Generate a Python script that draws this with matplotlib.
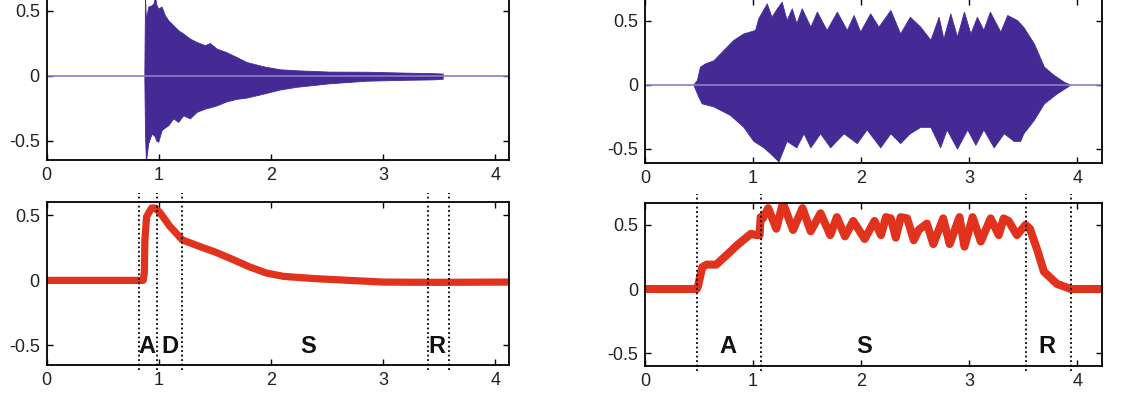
import numpy as np
import matplotlib
matplotlib.use('Agg')
from matplotlib import pyplot as plt
from matplotlib.ticker import FuncFormatter

plt.rcParams['font.family'] = ['Liberation Sans', 'DejaVu Sans']

PURPLE = '#452a96'
RED = '#e1321e'

# left note (piano-like): waveform envelope
wl_x = [0.870, 0.876, 0.884, 0.905, 0.935, 0.955, 0.965, 0.975, 0.994, 1.024, 1.053, 1.083,
        1.128, 1.172, 1.217, 1.276, 1.336, 1.41, 1.454, 1.514, 1.60, 1.69, 1.78, 1.929,
        2.077, 2.226, 2.52, 2.85, 3.20, 3.44, 3.53]
wl_up = [0.0, 0.60, 0.43, 0.53, 0.54, 0.56, 0.62, 0.55, 0.515, 0.53, 0.464, 0.425,
         0.387, 0.348, 0.323, 0.284, 0.258, 0.233, 0.25, 0.207, 0.18, 0.143, 0.104, 0.071,
         0.048, 0.040, 0.030, 0.029, 0.022, 0.018, 0.015]
wl_lo = [0.0, -0.45, -0.66, -0.52, -0.447, -0.46, -0.47, -0.50, -0.51, -0.42, -0.40, -0.383,
         -0.33, -0.357, -0.306, -0.33, -0.28, -0.255, -0.245, -0.23, -0.20, -0.18, -0.17, -0.14,
         -0.108, -0.087, -0.06, -0.04, -0.033, -0.03, -0.025]

# right note (sustained, vibrato): waveform envelope
wr_x = [0.447, 0.48, 0.509, 0.555, 0.633, 0.725, 0.818, 0.91, 1.018, 1.049, 1.127, 1.17,
        1.22, 1.265, 1.31, 1.358, 1.40, 1.45, 1.53, 1.59, 1.68, 1.775, 1.867, 1.93,
        1.99, 2.083, 2.16, 2.27, 2.36, 2.45, 2.546, 2.64, 2.716, 2.76, 2.824, 2.886,
        2.95, 3.01, 3.07, 3.13, 3.19, 3.287, 3.35, 3.44, 3.50, 3.596, 3.69, 3.78,
        3.873, 3.935]
wr_up = [0.0, 0.036, 0.14, 0.166, 0.19, 0.27, 0.35, 0.40, 0.427, 0.52, 0.635, 0.53,
         0.596, 0.648, 0.505, 0.596, 0.48, 0.596, 0.453, 0.57, 0.427, 0.57, 0.427, 0.544,
         0.414, 0.557, 0.453, 0.583, 0.40, 0.53, 0.453, 0.35, 0.53, 0.36, 0.557, 0.375,
         0.57, 0.40, 0.53, 0.427, 0.57, 0.414, 0.544, 0.505, 0.45, 0.323, 0.14, 0.076,
         0.023, 0.0]
wr_lo_x = [0.447, 0.494, 0.525, 0.633, 0.787, 0.91, 1.003, 1.096, 1.157, 1.235, 1.265, 1.31,
           1.40, 1.466, 1.53, 1.62, 1.713, 1.836, 1.96, 2.05, 2.176, 2.27, 2.36, 2.45,
           2.546, 2.64, 2.73, 2.79, 2.886, 2.98, 3.056, 3.13, 3.225, 3.318, 3.41, 3.47,
           3.50, 3.596, 3.69, 3.81, 3.935]
wr_lo = [0.0, -0.094, -0.146, -0.17, -0.237, -0.33, -0.44, -0.49, -0.536, -0.60, -0.536, -0.44,
         -0.49, -0.38, -0.49, -0.38, -0.49, -0.38, -0.457, -0.35, -0.49, -0.38, -0.457, -0.38,
         -0.33, -0.33, -0.49, -0.35, -0.50, -0.35, -0.47, -0.35, -0.49, -0.38, -0.44, -0.44,
         -0.38, -0.276, -0.146, -0.068, 0.0]

# amplitude envelopes (red)
el_x = [0.0, 0.86, 0.87, 0.875, 0.89, 0.935, 0.965, 1.01, 1.098, 1.21, 1.365, 1.51,
        1.66, 1.81, 1.96, 2.11, 2.40, 2.70, 3.0, 3.44, 4.11]
el_y = [0.0, 0.0, 0.06, 0.31, 0.49, 0.556, 0.556, 0.52, 0.415, 0.31, 0.26, 0.215,
        0.16, 0.103, 0.056, 0.031, 0.013, 0.0, -0.013, -0.015, -0.013]

er_x = [0.0, 0.48, 0.49, 0.53, 0.57, 0.66, 0.756, 0.85, 0.98, 1.03, 1.06, 1.07,
        1.09, 1.14, 1.215, 1.276, 1.37, 1.457, 1.533, 1.624, 1.714, 1.775, 1.85, 1.926,
        2.032, 2.123, 2.183, 2.229, 2.274, 2.32, 2.365, 2.425, 2.486, 2.531, 2.607, 2.667,
        2.758, 2.818, 2.909, 2.955, 3.03, 3.106, 3.197, 3.272, 3.317, 3.363, 3.44, 3.52,
        3.56, 3.63, 3.69, 3.81, 3.94, 4.23]
er_y = [0.0, 0.0, 0.02, 0.17, 0.19, 0.19, 0.265, 0.34, 0.43, 0.42, 0.42, 0.56,
        0.55, 0.63, 0.47, 0.67, 0.46, 0.63, 0.45, 0.59, 0.42, 0.56, 0.41, 0.53,
        0.39, 0.53, 0.42, 0.56, 0.55, 0.40, 0.56, 0.55, 0.38, 0.46, 0.51, 0.35,
        0.55, 0.35, 0.56, 0.33, 0.56, 0.37, 0.55, 0.42, 0.55, 0.53, 0.42, 0.50,
        0.47, 0.30, 0.135, 0.04, 0.0, 0.0]

# phase boundaries and labels
bl_lines = [0.82, 0.985, 1.21, 3.40, 3.59]
bl_labels = ['A', 'D', 'S', 'R']
bl_label_x = [0.89, 1.098, 2.33, 3.48]
br_lines = [0.48, 1.07, 3.52, 3.94]
br_labels = ['A', 'S', 'R']
br_label_x = [0.77, 2.03, 3.72]

ticks_x = [0, 1, 2, 3, 4]
ticks_y = [-0.5, 0, 0.5]

fig = plt.figure(figsize=(11.23, 4.0), dpi=100)
ax_tl = fig.add_axes([0.0416, 0.600, 0.4116, 0.4225])
ax_tr = fig.add_axes([0.5743, 0.5933, 0.4073, 0.4095])
ax_bl = fig.add_axes([0.0416, 0.0875, 0.4116, 0.4068])
ax_br = fig.add_axes([0.5743, 0.0850, 0.4073, 0.4068])

fmt = FuncFormatter(lambda v, p: ('%g' % v).replace('\u2212', '-'))


def style(ax, xmax, ylo, yhi):
    ax.set_xlim(0, xmax)
    ax.set_ylim(ylo, yhi)
    ax.set_xticks(ticks_x)
    ax.set_yticks(ticks_y)
    ax.xaxis.set_major_formatter(fmt)
    ax.yaxis.set_major_formatter(fmt)
    ax.tick_params(direction='in', length=4, width=1, top=True, right=True,
                   labelsize=13, pad=5, colors='black', labelcolor='#222222')
    for s in ax.spines.values():
        s.set_linewidth(1.3)


# waveforms
ax_tl.axhline(0, color='#8a80c8', lw=1.2)
ax_tl.fill_between(wl_x, wl_lo, wl_up, color=PURPLE, lw=0.6, edgecolor=PURPLE)
style(ax_tl, 4.12, -0.65, 0.65)

ax_tr.axhline(0, color='#8a80c8', lw=1.2)
xs = np.unique(np.concatenate([wr_x, wr_lo_x]))
ax_tr.fill_between(xs, np.interp(xs, wr_lo_x, wr_lo), np.interp(xs, wr_x, wr_up),
                   color=PURPLE, lw=0.6, edgecolor=PURPLE)
style(ax_tr, 4.23, -0.61, 0.67)

# envelopes
ax_bl.plot(el_x, el_y, color=RED, lw=5.2, solid_joinstyle='round', solid_capstyle='round')
style(ax_bl, 4.12, -0.65, 0.60)
ax_br.plot(er_x, er_y, color=RED, lw=5.8, solid_joinstyle='round', solid_capstyle='round')
style(ax_br, 4.23, -0.60, 0.668)

for ax, lines, labels, lx, ly in [(ax_bl, bl_lines, bl_labels, bl_label_x, -0.51),
                                  (ax_br, br_lines, br_labels, br_label_x, -0.45)]:
    ax.vlines(lines, -0.03, 1.057, transform=ax.get_xaxis_transform(), colors='black',
              linestyles=(0, (1, 1.5)), lw=1.3, clip_on=False)
    for t, x in zip(labels, lx):
        ax.text(x, ly, t, ha='center', va='center', fontsize=17, fontweight='bold',
                color='#111111')

fig.savefig('out.png', dpi=100)
